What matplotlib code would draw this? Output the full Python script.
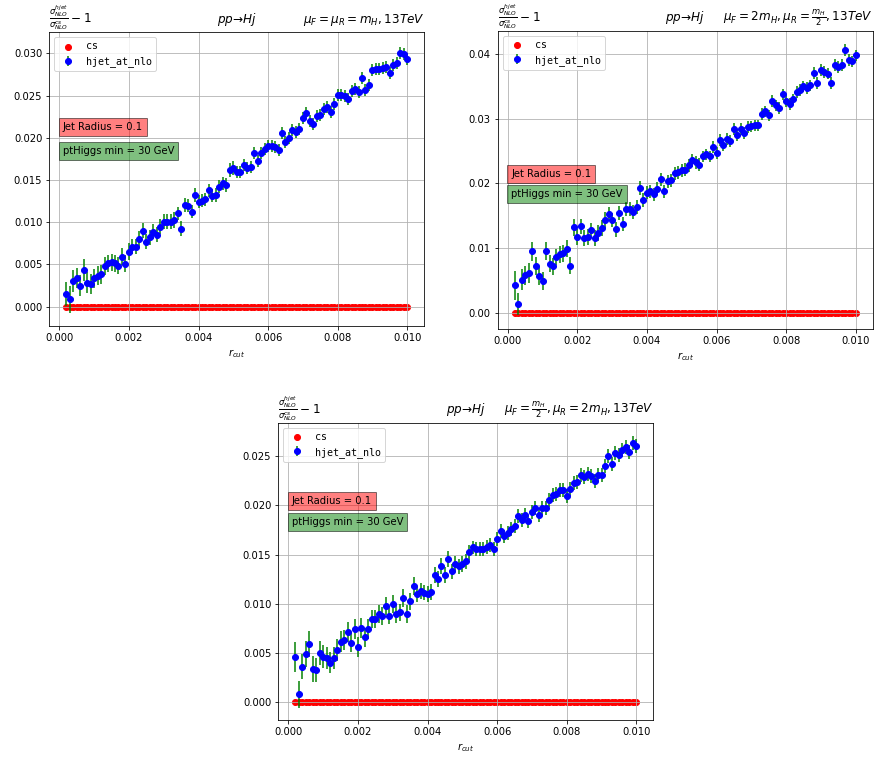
import matplotlib
matplotlib.use('Agg')
import matplotlib.pyplot as plt
import numpy as np

# r_cut grid, in units of 1e-4
r_cut_e4 = [2, 3, 4, 5, 6, 7, 8, 9, 10, 11, 12, 13, 14, 15, 16, 17, 18, 19, 20,
            21, 22, 23, 24, 25, 26, 27, 28, 29, 30, 31, 32, 33, 34, 35, 36, 37, 38, 39, 40,
            41, 42, 43, 44, 45, 46, 47, 48, 49, 50, 51, 52, 53, 54, 55, 56, 57, 58, 59, 60,
            61, 62, 63, 64, 65, 66, 67, 68, 69, 70, 71, 72, 73, 74, 75, 76, 77, 78, 79, 80,
            81, 82, 83, 84, 85, 86, 87, 88, 89, 90, 91, 92, 93, 94, 95, 96, 97, 98, 99, 100]
r_cut = np.array(r_cut_e4) * 1e-4

# cs / cs - 1 (always zero)
cs = [0.0] * len(r_cut_e4)

# mu_F = mu_R = m_H
hjet_1 = [0.00146, 0.00087, 0.00308, 0.00335, 0.00249, 0.00434, 0.00284, 0.00264, 0.00335, 0.00367,
          0.00383, 0.00482, 0.00513, 0.00525, 0.00513, 0.00482, 0.00592, 0.00505, 0.00651, 0.00710,
          0.00710, 0.00797, 0.00900, 0.00766, 0.00821, 0.00888, 0.00849, 0.00947, 0.01003, 0.01003,
          0.01006, 0.01026, 0.01105, 0.00924, 0.01204, 0.01196, 0.01125, 0.01322, 0.01243, 0.01255,
          0.01271, 0.01377, 0.01314, 0.01322, 0.01421, 0.01460, 0.01441, 0.01618, 0.01644, 0.01599,
          0.01599, 0.01677, 0.01638, 0.01650, 0.01816, 0.01725, 0.01824, 0.01863, 0.01902, 0.01902,
          0.01887, 0.01855, 0.02060, 0.01954, 0.02001, 0.02092, 0.02072, 0.02100, 0.02238, 0.02289,
          0.02198, 0.02159, 0.02258, 0.02269, 0.02337, 0.02368, 0.02309, 0.02400, 0.02506, 0.02506,
          0.02494, 0.02455, 0.02554, 0.02573, 0.02542, 0.02704, 0.02566, 0.02625, 0.02802, 0.02810,
          0.02810, 0.02822, 0.02834, 0.02771, 0.02862, 0.02889, 0.03000, 0.02992, 0.02933]
err_1 = [0.0014, 0.0016, 0.0013, 0.0012, 0.0012, 0.0013, 0.0012, 0.0012, 0.0011, 0.0011,
         0.0011, 0.0011, 0.0010, 0.0010, 0.0010, 0.0010, 0.0010, 0.0010, 0.0010, 0.0009,
         0.0009, 0.0010, 0.0009, 0.0009, 0.0009, 0.0009, 0.0009, 0.0009, 0.0009, 0.0009,
         0.0009, 0.0009, 0.0008, 0.0009, 0.0008, 0.0008, 0.0008, 0.0008, 0.0008, 0.0008,
         0.0008, 0.0008, 0.0008, 0.0008, 0.0008, 0.0008, 0.0008, 0.0008, 0.0008, 0.0007,
         0.0007, 0.0007, 0.0007, 0.0007, 0.0007, 0.0007, 0.0007, 0.0007, 0.0007, 0.0007,
         0.0007, 0.0007, 0.0007, 0.0007, 0.0007, 0.0007, 0.0007, 0.0007, 0.0007, 0.0007,
         0.0007, 0.0007, 0.0007, 0.0007, 0.0007, 0.0007, 0.0007, 0.0007, 0.0007, 0.0007,
         0.0007, 0.0007, 0.0007, 0.0007, 0.0007, 0.0007, 0.0007, 0.0007, 0.0007, 0.0007,
         0.0007, 0.0007, 0.0007, 0.0007, 0.0007, 0.0007, 0.0007, 0.0007, 0.0007]

# mu_F = 2 m_H, mu_R = m_H / 2
hjet_2 = [0.00427, 0.00144, 0.00514, 0.00581, 0.00617, 0.00951, 0.00730, 0.00571, 0.00494, 0.00951,
          0.00761, 0.00720, 0.00864, 0.00905, 0.00925, 0.00992, 0.00730, 0.01326, 0.01172, 0.01337,
          0.01162, 0.01172, 0.01275, 0.01162, 0.01234, 0.01311, 0.01439, 0.01532, 0.01439, 0.01290,
          0.01542, 0.01378, 0.01609, 0.01609, 0.01558, 0.01635, 0.01928, 0.01738, 0.01856, 0.01882,
          0.01830, 0.01918, 0.02062, 0.01882, 0.02031,
          0.02051, 0.02159, 0.02175, 0.02200, 0.02211, 0.02277, 0.02355, 0.02329, 0.02288, 0.02416,
          0.02447, 0.02416, 0.02560, 0.02468, 0.02673, 0.02596, 0.02689, 0.02653, 0.02843, 0.02740,
          0.02843, 0.02776, 0.02869, 0.02879, 0.02894, 0.02894, 0.03074, 0.03110, 0.03049, 0.03265,
          0.03203, 0.03167, 0.03372, 0.03270, 0.03228, 0.03295, 0.03408, 0.03444, 0.03496, 0.03475,
          0.03511, 0.03707, 0.03552, 0.03743, 0.03717, 0.03692, 0.03552, 0.03830, 0.03794, 0.03830,
          0.04061, 0.03907, 0.03881, 0.03974]
err_2 = [0.0022, 0.0017, 0.0016, 0.0015, 0.0015, 0.0015, 0.0014, 0.0014, 0.0014, 0.0014,
         0.0013, 0.0013, 0.0013, 0.0013, 0.0013, 0.0013, 0.0013, 0.0013, 0.0012, 0.0012,
         0.0012, 0.0012, 0.0012, 0.0012, 0.0012, 0.0012, 0.0012, 0.0011, 0.0011, 0.0011,
         0.0011, 0.0011, 0.0011, 0.0011, 0.0011, 0.0011, 0.0011, 0.0011, 0.0010, 0.0010,
         0.0010, 0.0010, 0.0010, 0.0010, 0.0010, 0.0010, 0.0010, 0.0010, 0.0010, 0.0010,
         0.0010, 0.0010, 0.0010, 0.0010, 0.0009, 0.0009, 0.0009, 0.0009, 0.0009, 0.0009,
         0.0009, 0.0009, 0.0009, 0.0009, 0.0009, 0.0009, 0.0009, 0.0009, 0.0009, 0.0009,
         0.0009, 0.0009, 0.0009, 0.0009, 0.0009, 0.0009, 0.0009, 0.0009, 0.0009, 0.0009,
         0.0009, 0.0009, 0.0009, 0.0009, 0.0009, 0.0009, 0.0009, 0.0009, 0.0009, 0.0009,
         0.0009, 0.0009, 0.0009, 0.0009, 0.0009, 0.0009, 0.0009, 0.0009, 0.0009]

# mu_F = m_H / 2, mu_R = 2 m_H
hjet_3 = [0.00458, 0.00081, 0.00363, 0.00488, 0.00590, 0.00336, 0.00329, 0.00498, 0.00464, 0.00447,
          0.00403, 0.00447, 0.00532, 0.00617, 0.00634, 0.00712, 0.00607, 0.00742, 0.00559, 0.00753,
          0.00658, 0.00742, 0.00844, 0.00848, 0.00895, 0.00878, 0.00980, 0.00881, 0.00997, 0.00895,
          0.00912, 0.01058, 0.00895, 0.01024, 0.01183, 0.01098, 0.01132, 0.01115, 0.01102, 0.01119,
          0.01295, 0.01251, 0.01387, 0.01292, 0.01454, 0.01329, 0.01407, 0.01380,
          0.01405, 0.01431, 0.01522, 0.01573, 0.01559, 0.01559, 0.01559, 0.01576, 0.01600, 0.01556,
          0.01658, 0.01742, 0.01685, 0.01719, 0.01759, 0.01793, 0.01895, 0.01854, 0.01905, 0.01837,
          0.01929, 0.01973, 0.01905, 0.01973, 0.01973, 0.02051, 0.02109, 0.02119, 0.02153, 0.02153,
          0.02099, 0.02166, 0.02227, 0.02241, 0.02312, 0.02288, 0.02319, 0.02295, 0.02251, 0.02312,
          0.02305, 0.02397, 0.02505, 0.02424, 0.02532, 0.02515, 0.02559, 0.02593, 0.02539, 0.02634,
          0.02607]
err_3 = [0.0015, 0.0014, 0.0013, 0.0013, 0.0013, 0.0013, 0.0012, 0.0012, 0.0012, 0.0011,
         0.0011, 0.0011, 0.0011, 0.0011, 0.0010, 0.0010, 0.0010, 0.0010, 0.0010, 0.0010,
         0.0010, 0.0010, 0.0009, 0.0009, 0.0009, 0.0009, 0.0009, 0.0009, 0.0009, 0.0009,
         0.0009, 0.0009, 0.0009, 0.0009, 0.0009, 0.0008, 0.0008, 0.0008, 0.0008, 0.0008,
         0.0008, 0.0008, 0.0008, 0.0008, 0.0008, 0.0008, 0.0008, 0.0008, 0.0008, 0.0008,
         0.0008, 0.0007, 0.0007, 0.0007, 0.0007, 0.0007, 0.0007, 0.0007, 0.0007, 0.0007,
         0.0007, 0.0007, 0.0007, 0.0007, 0.0007, 0.0007, 0.0007, 0.0007, 0.0007, 0.0007,
         0.0007, 0.0007, 0.0007, 0.0007, 0.0007, 0.0007, 0.0007, 0.0007, 0.0007, 0.0007,
         0.0007, 0.0007, 0.0007, 0.0007, 0.0007, 0.0007, 0.0007, 0.0007, 0.0007, 0.0007,
         0.0007, 0.0007, 0.0007, 0.0007, 0.0007, 0.0007, 0.0007, 0.0007, 0.0007]

scales = [r'$\mu_F=\mu_R=m_H, 13TeV$',
          r'$\mu_F=2m_H, \mu_R=\frac{m_H}{2}, 13TeV$',
          r'$\mu_F=\frac{m_H}{2}, \mu_R=2m_H, 13TeV$']


def panel(ax, hjet, err, scale, ylim, y_jet, y_pt):
    ax.scatter(r_cut, cs, c='red', label='cs')
    ax.errorbar(r_cut, hjet, yerr=err, fmt='o', color='blue', ecolor='green', label='hjet_at_nlo')
    ax.set_ylim(ylim)
    ax.grid(True)
    ax.set_xlabel(r'$r_{cut}$')
    ax.set_title(r'$\frac{\sigma_{NLO}^{hjet}}{\sigma_{NLO}^{cs}} - 1$', loc='left')
    ax.set_title(r'$pp$' + '\u2192' + r'$Hj$', loc='center')
    ax.set_title(scale, loc='right')
    ax.legend(loc='upper left', prop={'family': 'monospace'})
    ax.text(0.0001, y_jet, 'Jet Radius = 0.1', va='center',
            bbox=dict(facecolor='red', alpha=0.5))
    ax.text(0.0001, y_pt, 'ptHiggs min = 30 GeV', va='center',
            bbox=dict(facecolor='green', alpha=0.5))


fig = plt.figure(figsize=(875 / 72, 757 / 72), dpi=72)
ax1 = fig.add_axes([0.0563, 0.5694, 0.4286, 0.3880])
ax2 = fig.add_axes([0.5688, 0.5650, 0.4286, 0.3941])
ax3 = fig.add_axes([0.3181, 0.0489, 0.4286, 0.3927])

panel(ax1, hjet_1, err_1, scales[0], (-0.0023, 0.0325), 0.0213, 0.0184)
panel(ax2, hjet_2, err_2, scales[1], (-0.0025, 0.0435), 0.0215, 0.0184)
panel(ax3, hjet_3, err_3, scales[2], (-0.0018, 0.0284), 0.0204, 0.0183)

fig.savefig('out.png', dpi=72)
